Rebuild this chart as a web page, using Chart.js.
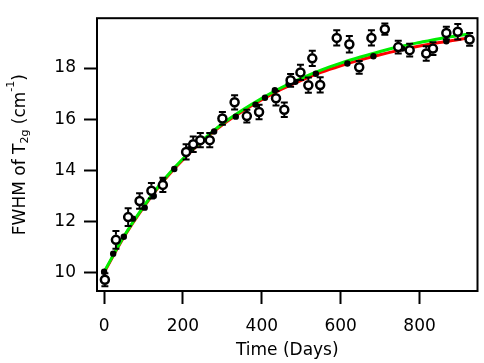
<!DOCTYPE html>
<html><head><meta charset="utf-8">
<script src="https://cdn.jsdelivr.net/npm/chart.js@4"></script>
<style>html,body{margin:0;padding:0;background:#fff}#wrap{width:484px;height:363px}</style>
</head><body><div id="wrap"><canvas id="c" width="484" height="363"></canvas></div>
<script>
const xTicks = [0, 200, 400, 600, 800];
const yTicks = [10, 12, 14, 16, 18];

const circleDays = [2, 30, 61, 90, 120, 149, 208, 226, 244, 268, 300, 331, 362, 393, 436, 457, 473, 498, 518, 528, 548, 590, 622, 647, 678, 712, 746, 775, 817, 834, 868, 897, 927];
const circleFwhm = [9.72, 11.28, 12.17, 12.80, 13.20, 13.43, 14.72, 15.02, 15.18, 15.18, 16.03, 16.66, 16.12, 16.28, 16.82, 16.37, 17.52, 17.83, 17.33, 18.38, 17.34, 19.18, 18.93, 18.03, 19.18, 19.52, 18.82, 18.70, 18.57, 18.76, 19.37, 19.42, 19.12];
const circleErr = [0.25, 0.35, 0.35, 0.30, 0.30, 0.28, 0.30, 0.30, 0.28, 0.28, 0.25, 0.28, 0.25, 0.28, 0.28, 0.28, 0.25, 0.30, 0.30, 0.30, 0.30, 0.30, 0.32, 0.25, 0.30, 0.22, 0.25, 0.25, 0.28, 0.25, 0.25, 0.30, 0.25];

const dotDays = [0, 23, 50, 73, 103, 126, 149, 178, 216, 279, 334, 384, 408, 433, 468, 485, 537, 617, 683, 756, 868, 922];
const dotFwhm = [10.03, 10.74, 11.40, 12.11, 12.54, 13.00, 13.59, 14.05, 14.83, 15.52, 16.10, 16.57, 16.84, 17.13, 17.38, 17.46, 17.78, 18.18, 18.46, 18.76, 19.05, 19.18];

const fitDays = [0, 50, 100, 150, 200, 250, 300, 350, 400, 450, 500, 550, 600, 650, 700, 750, 800, 850, 900, 925];
const fitRed = [10.00, 11.38, 12.55, 13.57, 14.42, 15.15, 15.78, 16.30, 16.76, 17.17, 17.52, 17.83, 18.09, 18.32, 18.52, 18.70, 18.86, 19.00, 19.12, 19.18];
const fitGreen = [10.03, 11.41, 12.58, 13.60, 14.45, 15.18, 15.82, 16.35, 16.82, 17.24, 17.60, 17.92, 18.19, 18.43, 18.65, 18.84, 19.00, 19.15, 19.27, 19.33];

const xTitle = 'Time (Days)';
const yTitleParts = [['FWHM of T', 'n'], ['2g', 'sub'], [' (cm', 'n'], ['-1', 'sup'], [')', 'n']];

const FONT = 'DejaVu Sans';
const pts = (xs, ys) => xs.map((x, i) => ({x: x, y: ys[i]}));

const framePlugin = {
  id: 'frame',
  afterDraw(chart) {
    const a = chart.chartArea, ctx = chart.ctx;
    ctx.save();
    ctx.strokeStyle = '#000'; ctx.lineWidth = 2;
    ctx.strokeRect(a.left, a.top, a.right - a.left, a.bottom - a.top);
    ctx.restore();
  }
};

const errorBarPlugin = {
  id: 'errbars',
  afterDatasetsDraw(chart) {
    const ctx = chart.ctx, xs = chart.scales.x, ys = chart.scales.y;
    const r = 5, cap = 3.5;
    ctx.save();
    ctx.strokeStyle = '#000'; ctx.lineWidth = 2;
    circleDays.forEach((d, i) => {
      const px = xs.getPixelForValue(d);
      const py = ys.getPixelForValue(circleFwhm[i]);
      const up = ys.getPixelForValue(circleFwhm[i] + circleErr[i]);
      const dn = ys.getPixelForValue(circleFwhm[i] - circleErr[i]);
      ctx.beginPath();
      if (py - up > r) { ctx.moveTo(px, py - r); ctx.lineTo(px, up); }
      if (dn - py > r) { ctx.moveTo(px, py + r); ctx.lineTo(px, dn); }
      ctx.moveTo(px - cap, up); ctx.lineTo(px + cap, up);
      ctx.moveTo(px - cap, dn); ctx.lineTo(px + cap, dn);
      ctx.stroke();
    });
    ctx.restore();
  }
};

const yTitlePlugin = {
  id: 'ytitle',
  afterDraw(chart) {
    const ctx = chart.ctx, a = chart.chartArea;
    const fonts = {n: '17px "' + FONT + '"', sub: '11px "' + FONT + '"', sup: '11px "' + FONT + '"'};
    const offs = {n: 0, sub: 3, sup: -11};
    ctx.save();
    let total = 0;
    yTitleParts.forEach(p => { ctx.font = fonts[p[1]]; total += ctx.measureText(p[0]).width; });
    ctx.translate(25, (a.top + a.bottom) / 2);
    ctx.rotate(-Math.PI / 2);
    ctx.fillStyle = '#000';
    ctx.textBaseline = 'alphabetic';
    let x = -total / 2;
    yTitleParts.forEach(p => {
      ctx.font = fonts[p[1]];
      ctx.fillText(p[0], x, offs[p[1]]);
      x += ctx.measureText(p[0]).width;
    });
    ctx.restore();
  }
};

new Chart(document.getElementById('c'), {
  type: 'scatter',
  data: {
    datasets: [
      {label: 'fit red', data: pts(fitDays, fitRed), showLine: true, borderColor: '#ff0000', borderWidth: 3, pointRadius: 0, cubicInterpolationMode: 'monotone', order: 4},
      {label: 'fit green', data: pts(fitDays, fitGreen), showLine: true, borderColor: '#00ee00', borderWidth: 3, pointRadius: 0, cubicInterpolationMode: 'monotone', order: 3},
      {label: 'model', data: pts(dotDays, dotFwhm), pointRadius: 3.2, backgroundColor: '#000', borderColor: '#000', borderWidth: 0, order: 2},
      {label: 'FWHM', data: pts(circleDays, circleFwhm), pointRadius: 4, backgroundColor: '#fff', borderColor: '#000', borderWidth: 2.5, order: 1}
    ]
  },
  options: {
    responsive: false,
    animation: false,
    devicePixelRatio: 1,
    layout: {padding: {top: 4, right: 3, left: 0, bottom: 0}},
    plugins: {legend: {display: false}, tooltip: {enabled: false}},
    scales: {
      x: {
        type: 'linear', min: -18, max: 947,
        afterFit: s => { s.height = 72; },
        afterBuildTicks: s => { s.ticks = xTicks.map(v => ({value: v})); },
        border: {display: false},
        grid: {display: true, drawOnChartArea: false, drawTicks: true, tickLength: 13, tickWidth: 2, tickColor: '#000'},
        ticks: {color: '#000', font: {family: FONT, size: 17}, padding: 12, maxRotation: 0},
        title: {display: true, text: xTitle, color: '#000', font: {family: FONT, size: 17}, padding: {top: 0, bottom: 2}}
      },
      y: {
        type: 'linear', min: 9.28, max: 19.95,
        afterFit: s => { s.width = 97; },
        afterBuildTicks: s => { s.ticks = yTicks.map(v => ({value: v})); },
        border: {display: false},
        grid: {display: true, drawOnChartArea: false, drawTicks: true, tickLength: 13, tickWidth: 2, tickColor: '#000'},
        ticks: {color: '#000', font: {family: FONT, size: 17}, padding: 8},
        title: {display: false, text: 'FWHM of T2g (cm-1)'}
      }
    }
  },
  plugins: [errorBarPlugin, framePlugin, yTitlePlugin]
});
</script>
</body></html>
